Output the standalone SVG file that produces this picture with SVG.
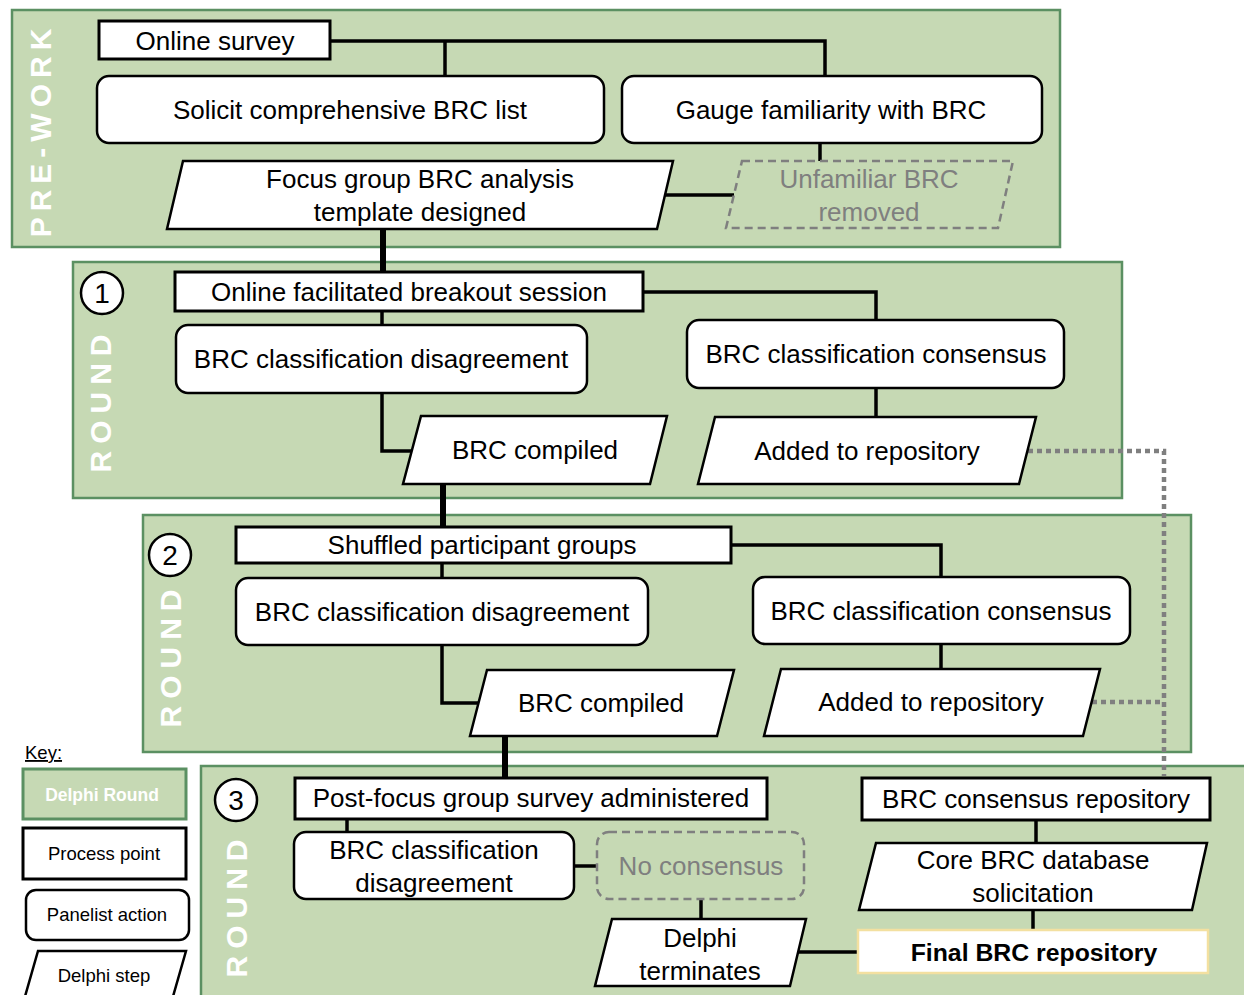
<svg xmlns="http://www.w3.org/2000/svg" width="1244" height="995" viewBox="0 0 1244 995">
<style>
.panel{fill:#c6d9b4;stroke:#5b9062;stroke-width:2.5}
.proc{fill:#fff;stroke:#000;stroke-width:3}
.act{fill:#fff;stroke:#000;stroke-width:2.5}
.step{fill:#fff;stroke:#000;stroke-width:2.5}
.ghost{fill:none;stroke:#7f7f7f;stroke-width:2.5;stroke-dasharray:8 5}
.t{font-family:"Liberation Sans",Arial,sans-serif;font-size:26px;fill:#000;text-anchor:middle}
.g{fill:#7f7f7f}
.b{font-weight:bold;font-size:24.8px}
.lbl{font-family:"Liberation Sans",Arial,sans-serif;font-weight:bold;font-size:30px;fill:#fff;text-anchor:middle}
.k{font-family:"Liberation Sans",Arial,sans-serif;font-size:18.5px;fill:#000;text-anchor:middle}
.kb{font-weight:bold;font-size:17.5px}
.num{font-family:"Liberation Sans",Arial,sans-serif;font-size:28px;fill:#000;text-anchor:middle}
.c{fill:none;stroke:#000;stroke-width:3.5}
.thick{fill:none;stroke:#000;stroke-width:6}
.dot{fill:none;stroke:#7f7f7f;stroke-width:4.5;stroke-dasharray:5 4}
</style>

<g id="panel-prework">
<rect class="panel" x="12" y="10" width="1048" height="237"/>
<text class="lbl" transform="translate(51,130) rotate(-90)" letter-spacing="6">PRE-WORK</text>
</g>
<g id="panel-round1">
<rect class="panel" x="73" y="262" width="1049" height="236"/>
<text class="lbl" transform="translate(111,400) rotate(-90)" letter-spacing="7">ROUND</text>
</g>
<g id="panel-round2">
<rect class="panel" x="143" y="515" width="1048" height="237"/>
<text class="lbl" transform="translate(181,655) rotate(-90)" letter-spacing="7">ROUND</text>
</g>
<g id="panel-round3">
<rect class="panel" x="201" y="766" width="1055" height="240"/>
<text class="lbl" transform="translate(247,905) rotate(-90)" letter-spacing="7">ROUND</text>
</g>

<g id="connectors">
<polyline class="c" points="330,41 825,41 825,76"/>
<line class="c" x1="445" y1="41" x2="445" y2="76"/>
<line class="c" x1="820" y1="143" x2="820" y2="161"/>
<line class="c" x1="665" y1="195" x2="734" y2="195"/>
<line class="thick" x1="383" y1="229" x2="383" y2="272"/>
<polyline class="c" points="643,292 876,292 876,320"/>
<line class="c" x1="382" y1="311" x2="382" y2="325"/>
<polyline class="c" points="382,393 382,451 412,451"/>
<line class="c" x1="876" y1="388" x2="876" y2="417"/>
<line class="thick" x1="443" y1="484" x2="443" y2="527"/>
<polyline class="c" points="731,545 941,545 941,577"/>
<line class="c" x1="442" y1="563" x2="442" y2="578"/>
<polyline class="c" points="442,645 442,703 479,703"/>
<line class="c" x1="941" y1="644" x2="941" y2="669"/>
<line class="thick" x1="505" y1="736" x2="505" y2="778"/>
<line class="c" x1="347" y1="819" x2="347" y2="832"/>
<line class="c" x1="574" y1="866" x2="597" y2="866"/>
<line class="c" x1="701" y1="899" x2="701" y2="919"/>
<line class="c" x1="798" y1="952" x2="858" y2="952"/>
<line class="c" x1="1036" y1="820" x2="1036" y2="843"/>
<line class="c" x1="1033" y1="910" x2="1033" y2="930"/>
<polyline class="dot" points="1028,451 1164,451 1164,776"/>
<line class="dot" x1="1092" y1="702" x2="1164" y2="702"/>
</g>

<g id="n-online-survey"><rect class="proc" x="99" y="21" width="231" height="38"/><text class="t" x="215" y="50">Online survey</text></g>
<g id="n-solicit"><rect class="act" x="97" y="76" width="507" height="67" rx="12"/><text class="t" x="350" y="119">Solicit comprehensive BRC list</text></g>
<g id="n-gauge"><rect class="act" x="622" y="76" width="420" height="67" rx="12"/><text class="t" x="831" y="119">Gauge familiarity with BRC</text></g>
<g id="n-focus"><polygon class="step" points="183,161 673,161 657,229 167,229"/><text class="t" x="420" y="188">Focus group BRC analysis</text><text class="t" x="420" y="221">template designed</text></g>
<g id="n-unfamiliar"><polygon class="ghost" points="742,161 1013,161 998,228 726,228"/><text class="t g" x="869" y="188">Unfamiliar BRC</text><text class="t g" x="869" y="221">removed</text></g>

<g id="n-circle1"><circle cx="102" cy="293" r="21" fill="#fff" stroke="#000" stroke-width="2.5"/><text class="num" x="102" y="303">1</text></g>
<g id="n-r1-session"><rect class="proc" x="175" y="272" width="468" height="39"/><text class="t" x="409" y="301">Online facilitated breakout session</text></g>
<g id="n-r1-disagree"><rect class="act" x="176" y="325" width="411" height="68" rx="12"/><text class="t" x="381" y="368">BRC classification disagreement</text></g>
<g id="n-r1-consensus"><rect class="act" x="687" y="320" width="377" height="68" rx="12"/><text class="t" x="876" y="363">BRC classification consensus</text></g>
<g id="n-r1-compiled"><polygon class="step" points="421,416 667,416 650,484 403,484"/><text class="t" x="535" y="459">BRC compiled</text></g>
<g id="n-r1-added"><polygon class="step" points="715,417 1036,417 1019,484 698,484"/><text class="t" x="867" y="460">Added to repository</text></g>

<g id="n-circle2"><circle cx="170" cy="555" r="21" fill="#fff" stroke="#000" stroke-width="2.5"/><text class="num" x="170" y="565">2</text></g>
<g id="n-r2-shuffled"><rect class="proc" x="236" y="527" width="495" height="36"/><text class="t" x="482" y="554">Shuffled participant groups</text></g>
<g id="n-r2-disagree"><rect class="act" x="236" y="578" width="412" height="67" rx="12"/><text class="t" x="442" y="621">BRC classification disagreement</text></g>
<g id="n-r2-consensus"><rect class="act" x="753" y="577" width="377" height="67" rx="12"/><text class="t" x="941" y="620">BRC classification consensus</text></g>
<g id="n-r2-compiled"><polygon class="step" points="487,670 734,670 717,736 470,736"/><text class="t" x="601" y="712">BRC compiled</text></g>
<g id="n-r2-added"><polygon class="step" points="781,669 1100,669 1083,736 764,736"/><text class="t" x="931" y="711">Added to repository</text></g>

<g id="n-circle3"><circle cx="236" cy="800" r="21" fill="#fff" stroke="#000" stroke-width="2.5"/><text class="num" x="236" y="810">3</text></g>
<g id="n-r3-post"><rect class="proc" x="295" y="778" width="472" height="41"/><text class="t" x="531" y="807">Post-focus group survey administered</text></g>
<g id="n-r3-repo"><rect class="proc" x="862" y="778" width="348" height="42"/><text class="t" x="1036" y="808">BRC consensus repository</text></g>
<g id="n-r3-disagree"><rect class="act" x="294" y="832" width="280" height="67" rx="12"/><text class="t" x="434" y="859">BRC classification</text><text class="t" x="434" y="892">disagreement</text></g>
<g id="n-r3-nocons"><rect class="ghost" x="597" y="832" width="207" height="67" rx="12"/><text class="t g" x="701" y="875">No consensus</text></g>
<g id="n-r3-core"><polygon class="step" points="876,843 1207,843 1192,910 859,910"/><text class="t" x="1033" y="869">Core BRC database</text><text class="t" x="1033" y="902">solicitation</text></g>
<g id="n-r3-terminates"><polygon class="step" points="612,919 806,919 790,986 595,986"/><text class="t" x="700" y="947">Delphi</text><text class="t" x="700" y="980">terminates</text></g>
<g id="n-r3-final"><rect x="858" y="930" width="350" height="43" fill="#fff" stroke="#f3e0a0" stroke-width="2.5"/><text class="t b" x="1034" y="961">Final BRC repository</text></g>

<g id="key">
<text x="25" y="759" font-family="Liberation Sans,Arial,sans-serif" font-size="18.5" text-decoration="underline">Key:</text>
<g id="key-round"><rect x="23" y="769" width="163" height="50" fill="#c6d9b4" stroke="#5b9062" stroke-width="3"/><text class="k kb" x="102" y="801" style="fill:#fff">Delphi Round</text></g>
<g id="key-process"><rect class="proc" x="23" y="828" width="163" height="51"/><text class="k" x="104" y="860">Process point</text></g>
<g id="key-panelist"><rect class="act" x="26" y="890" width="163" height="50" rx="10"/><text class="k" x="107" y="921">Panelist action</text></g>
<g id="key-step"><polygon class="step" points="38,951 186,951 172,1000 24,1000"/><text class="k" x="104" y="982">Delphi step</text></g>
</g>
</svg>
